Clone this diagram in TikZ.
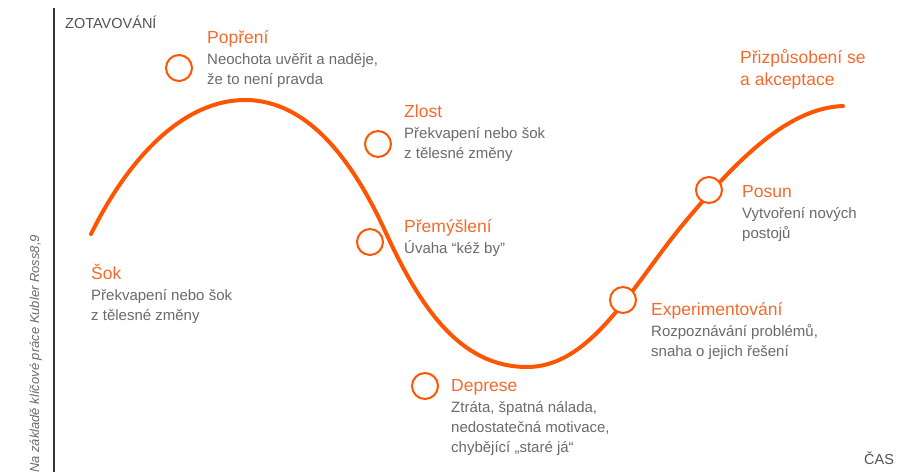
\documentclass[tikz,border=0pt]{standalone}
\usepackage{fontspec}
\setmainfont{Liberation Sans}
\usetikzlibrary{positioning}
\definecolor{curveorange}{HTML}{FF5500}
\definecolor{phaseorange}{HTML}{F46A2C}
\definecolor{notegray}{HTML}{6A6A6A}
\definecolor{axisgray}{HTML}{333333}

\begin{document}
\begin{tikzpicture}[x=1pt, y=-1pt,
	ring/.style={circle, draw=curveorange, fill=white, line width=2pt, minimum size=26pt, inner sep=0pt},
	phase/.style={anchor=base west, inner sep=0pt, text=phaseorange, font=\fontsize{17.5}{22}\selectfont},
	note/.style={anchor=north west, inner sep=0pt, align=left, text=notegray, font=\fontsize{15}{20}\selectfont},
	axislabel/.style={anchor=base west, inner sep=0pt, text=axisgray!85, font=\fontsize{14.5}{17}\selectfont}]
	\useasboundingbox (0,0) rectangle (908,472);

	% axis and its labels
	\draw [color=axisgray, line width=2pt] (54, 8) -- (54, 472);
	\node [axislabel] (recovery) at (65, 28) {ZOTAVOVÁNÍ};
	\node [axislabel] (time) at (864, 464) {ČAS};
	\node [anchor=base west, rotate=90, inner sep=0pt, text=notegray, font=\fontsize{13}{15}\itshape] (source) at (39, 473)
		{Na základě klíčové práce Kubler Ross8,9};

	% the curve
	\draw [color=curveorange, line width=4pt, line cap=round]
		(91, 234) .. controls (130, 155) and (185, 100) .. (245, 100)
		.. controls (310, 100) and (355, 165) .. (386, 233)
		.. controls (420, 307) and (460, 367) .. (527, 367)
		.. controls (590, 367) and (630, 290) .. (680, 228)
		.. controls (740, 155) and (790, 108) .. (843, 106);

	% rings
	\node [ring] (popreni-ring) at (179, 68) {};
	\node [ring] (zlost-ring) at (378, 144) {};
	\node [ring] (premysleni-ring) at (370, 242) {};
	\node [ring] (deprese-ring) at (425, 386) {};
	\node [ring] (experiment-ring) at (623, 300) {};
	\node [ring] (posun-ring) at (709, 190) {};

	% phases
	\node [phase] (sok) at (91, 279) {Šok};
	\node [note, below=7.5pt of sok.base west, anchor=north west] (sok-note)
		{\strut Překvapení nebo šok\\z tělesné změny};
	\node [phase] (popreni) at (207, 43) {Popření};
	\node [note, below=7.5pt of popreni.base west, anchor=north west] (popreni-note)
		{\strut Neochota uvěřit a naděje,\\že to není pravda};
	\node [phase] (zlost) at (404, 117) {Zlost};
	\node [note, below=7.5pt of zlost.base west, anchor=north west] (zlost-note)
		{\strut Překvapení nebo šok\\z tělesné změny};
	\node [phase] (premysleni) at (404, 232) {Přemýšlení};
	\node [note, below=7.5pt of premysleni.base west, anchor=north west] (premysleni-note)
		{\strut Úvaha “kéž by”};
	\node [phase] (deprese) at (451, 391) {Deprese};
	\node [note, below=7.5pt of deprese.base west, anchor=north west] (deprese-note)
		{\strut Ztráta, špatná nálada,\\nedostatečná motivace,\\chybějící „staré já“};
	\node [phase] (experiment) at (651, 315) {Experimentování};
	\node [note, below=7.5pt of experiment.base west, anchor=north west] (experiment-note)
		{\strut Rozpoznávání problémů,\\snaha o jejich řešení};
	\node [phase] (posun) at (742, 197) {Posun};
	\node [note, below=7.5pt of posun.base west, anchor=north west] (posun-note)
		{\strut Vytvoření nových\\postojů};
	\node [phase, align=left, anchor=north west] (akceptace) at (740, 47.6)
		{\strut Přizpůsobení se\\a akceptace};
\end{tikzpicture}
\end{document}
